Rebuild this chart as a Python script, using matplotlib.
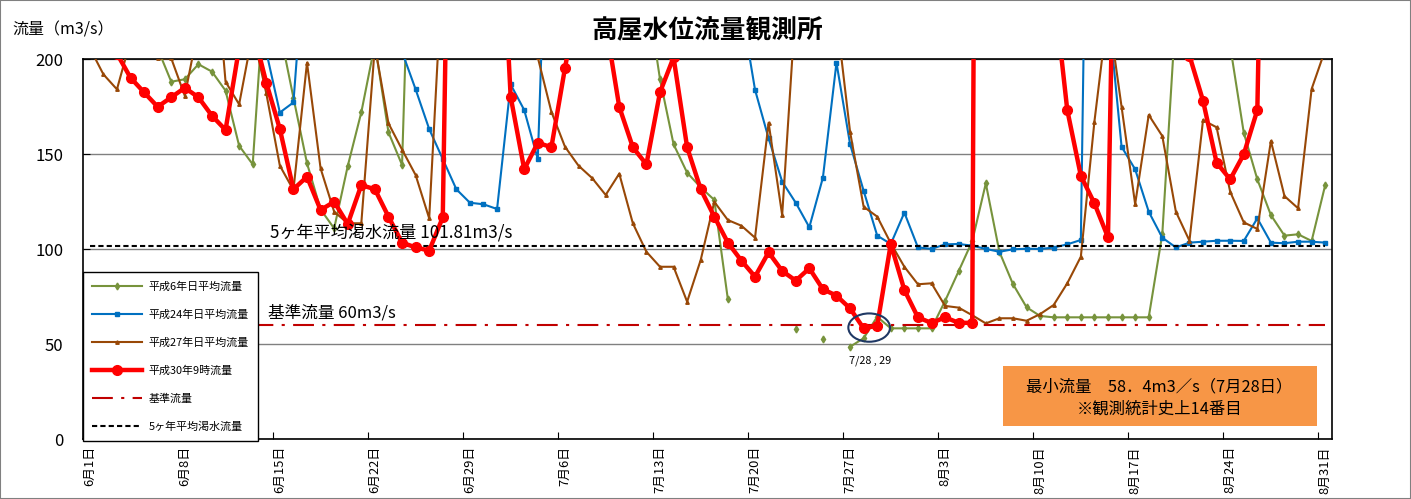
import numpy as np
import matplotlib.pyplot as plt
from matplotlib.patches import Ellipse, Rectangle

plt.rcParams['font.family'] = ['Noto Sans CJK JP', 'DejaVu Sans']

# x axis: one value per day, 6/1 .. 8/31
tick_days = [0, 7, 14, 21, 28, 35, 42, 49, 56, 63, 70, 77, 84, 91]
tick_labels = ['6月1日', '6月8日', '6月15日', '6月22日', '6月29日', '7月6日', '7月13日',
               '7月20日', '7月27日', '8月3日', '8月10日', '8月17日', '8月24日', '8月31日']

nan = np.nan
# 平成6年日平均流量
h06 = [300, 280, 260, 240, 220, 205.6, 188.2, 189.5, 197.4, 193.5,
       183.5, 154.5, 144.7, 251, 215, 179.8, 145.3, 121, 111, 143.8,
       172.1, 208, 161.6, 144.4, 376, 500, 450, 400, 350, 320,
       300, 350, 400, 380, 350, 320, 300, 280, 300, 280,
       260, 237, 189.6, 155.3, 140.3, 132.6, 126, 73.7, nan, nan,
       nan, nan, 58, nan, 52.8, nan, 48.7, 53.2, 64.5, 58.4,
       58.4, 58.4, 58.4, 72.8, 88.5, 104.3, 134.7, 98.7, 81.7, 69.5,
       64.9, 64.2, 64.2, 64.2, 64.2, 64.2, 64.2, 64.2, 64.2, 108,
       225, 300, 280, 250, 207, 161.4, 136.8, 118, 107.2, 107.9,
       104.4, 133.8]
# 平成24年日平均流量
h24 = [300, 280, 260, 250, 240, 260, 300, 280, 260, 250,
       240, 230, 220, 204, 172, 177.3, 272, 400, 350, 300,
       280, 260, 240, 204, 184.2, 163.3, 147.5, 131.6, 124.5, 123.7,
       121.2, 186.8, 173.3, 147.5, 361, 500, 600, 450, 400, 350,
       320, 300, 280, 300, 350, 300, 280, 260, 227, 184,
       158.4, 135.6, 124.5, 111.6, 137.7, 198.2, 155.4, 130.8, 107.2, 102.8,
       119.3, 101, 100.2, 102.6, 102.8, 101.9, 100.2, 98.7, 100, 100.3,
       100.2, 100.9, 102.6, 104.9, 600, 228, 154, 142.1, 119.8, 106.1,
       101, 103.5, 104, 104.5, 104.5, 104.4, 116.3, 103.5, 103.2, 104,
       104, 103.5]
# 平成27年日平均流量
h27 = [206, 192.1, 184.2, 210, 230, 200.5, 200.5, 180.8, 217, 272,
       188.2, 176.3, 214, 182.1, 144, 131.2, 198.2, 142.6, 119.8, 113.7,
       113.7, 207, 166.3, 152.5, 139.1, 116.3, 251, 350, 400, 380,
       350, 300, 250, 201, 172.4, 154, 144, 137.5, 128.6, 139.8,
       113.7, 98.7, 90.8, 90.8, 72.4, 94.4, 125, 115.4, 112.4, 106.1,
       166.6, 118, 229, 300, 260, 223, 161.9, 122.4, 117.2, 103.2,
       90.8, 81.6, 82.1, 70.2, 69.3, 65.3, 61, 63.7, 63.7, 62.4,
       65.9, 70.7, 82.1, 96.1, 167.2, 226, 175, 123.8, 170.7, 159.6,
       119.8, 104.5, 168, 164.2, 130.3, 114.2, 110.7, 157, 128, 121.6,
       184.4, 205]
# 平成30年9時流量
h30 = [260, 240, 203, 190.3, 182.6, 175, 180, 185, 180, 170.3,
       162.8, 206, 216, 187.7, 163.3, 131.6, 138.2, 120.7, 125, 113.3,
       133.8, 131.6, 117.2, 103.5, 101, 99.3, 116.8, 560, 800, 500,
       321, 180.3, 142.1, 156.1, 153.7, 195.3, 234, 260, 219, 175,
       153.7, 144.7, 182.6, 201, 153.7, 131.6, 117.2, 103.5, 94, 85.6,
       98.4, 88.6, 83.5, 90, 79, 75.6, 68.9, 58.4, 59.8, 102.8,
       78.6, 64.2, 61.2, 64.2, 61.3, 61.3, 1500, 900, 600, 400,
       300, 238, 173.3, 138.7, 124.2, 106.3, 500, 700, 450, 320,
       250, 202, 178.2, 145.6, 136.8, 150, 173.3, 540, 800, 500,
       350, 280]
kijun = 60.0
katsusui = 101.81

days = np.arange(len(h30)) + 0.5

fig = plt.figure(figsize=(14.11, 4.99), dpi=100)
ax = fig.add_axes([83 / 1411, 1 - 439.3 / 499, 1249 / 1411, 380 / 499])

ax.plot(days, h06, color='#77933C', lw=1.5, marker='d', ms=3.5, label='平成6年日平均流量', zorder=3)
ax.plot(days, h24, color='#0070C0', lw=1.5, marker='s', ms=3.5, label='平成24年日平均流量', zorder=3)
ax.plot(days, h27, color='#984807', lw=1.5, marker='^', ms=2.5, label='平成27年日平均流量', zorder=3)
ax.plot(days, h30, color='#FF0000', lw=3.2, marker='o', ms=7, label='平成30年9時流量', zorder=4)
ax.plot(days, [kijun] * len(days), color='#C00000', lw=1.5, dashes=(10, 4, 1.5, 4), label='基準流量', zorder=3)
ax.plot(days, [katsusui] * len(days), color='black', lw=1.5, dashes=(2.5, 1.5), label='5ヶ年平均渇水流量', zorder=3)

ax.set_xlim(0, 92)
ax.set_ylim(0, 200)
ax.set_yticks([0, 50, 100, 150, 200])
ax.yaxis.grid(True, color='#808080', lw=1)
ax.set_axisbelow(True)
# tick marks on day boundaries, labels centred on the day
ax.set_xticks(tick_days)
ax.set_xticklabels([])
ax.set_xticks(np.array(tick_days) + 0.5, minor=True)
ax.set_xticklabels(tick_labels, minor=True, rotation=90, fontsize=9.3)
ax.tick_params(axis='x', which='major', direction='in', length=5)
ax.tick_params(axis='x', which='minor', length=0, pad=5)
ax.tick_params(axis='y', direction='in', length=5, pad=14, labelsize=12)
for s in ax.spines.values():
    s.set_color('black')
    s.set_linewidth(1.2)

ax.text(13.76, 108.6, '5ヶ年平均渇水流量 101.81m3/s', fontsize=12.3, va='center', ha='left', zorder=5)
ax.text(13.6, 66.5, '基準流量 60m3/s', fontsize=12, va='center', ha='left', zorder=5)

ax.add_patch(Ellipse((57.91, 58.8), 3.07, 14.9, fill=False, ec='#1F3864', lw=1.5, zorder=6))
ax.text(57.95, 41.5, '7/28 , 29', fontsize=7.8, ha='center', va='center')

ax.add_patch(Rectangle((67.8, 7.0), 23.1, 31.6, fc='#F79646', ec='none', zorder=5))
ax.text(79.3, 27.5, '最小流量　58．4m3／s（7月28日）', fontsize=11.8, ha='center', va='center', zorder=6)
ax.text(79.3, 16.0, '※観測統計史上14番目', fontsize=11.8, ha='center', va='center', zorder=6)

leg = ax.legend(loc='lower left', bbox_to_anchor=(0, -0.005), borderaxespad=0, fontsize=7.9,
                handlelength=4.5, labelspacing=1.6, borderpad=0.85, handletextpad=0.6,
                fancybox=False, framealpha=1, edgecolor='black')
leg.get_frame().set_linewidth(1.0)
leg.set_zorder(7)

fig.text(0.501, 0.94, '高屋水位流量観測所', fontsize=18.5, fontweight='bold', ha='center', va='center')
fig.text(12 / 1411, 1 - 30 / 499, '流量（m3/s）', fontsize=11.5, ha='left', va='center')

fig.patches.append(Rectangle((0, 0), 1, 1, transform=fig.transFigure, fill=False,
                             ec='#808080', lw=1.5))

fig.savefig('out.png', dpi=100)
